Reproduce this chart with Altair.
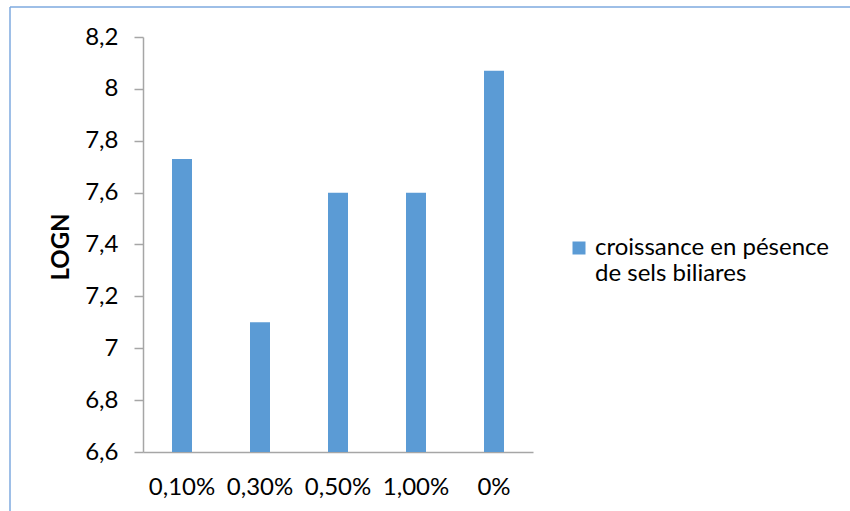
import altair as alt
import pandas as pd

# Bile-salt concentrations and the measured log counts
concentrations = ["0,10%", "0,30%", "0,50%", "1,00%", "0%"]
log_counts = [7.73, 7.10, 7.60, 7.60, 8.07]
series_name = "croissance en pésence de sels biliares"
y_ticks = [6.6, 6.8, 7.0, 7.2, 7.4, 7.6, 7.8, 8.0, 8.2]

df = pd.DataFrame({
    "concentration": concentrations,
    "logn": log_counts,
    "serie": [series_name] * len(concentrations),
})

FONT = "Lato"
FS = 24
BAR_BLUE = "#5b9bd5"
AXIS_GREY = "#a6a6a6"
FRAME_BLUE = "#7eaadf"

bars = alt.Chart(df).mark_bar(size=20).encode(
    x=alt.X(
        "concentration:N",
        sort=concentrations,
        scale=alt.Scale(paddingInner=0, paddingOuter=0),
        axis=alt.Axis(
            title=None, labelAngle=0, ticks=False, labelPadding=23,
            labelFont=FONT, labelFontSize=FS, labelColor="black",
            domainColor=AXIS_GREY, domainWidth=1.5,
        ),
    ),
    y=alt.Y(
        "logn:Q",
        scale=alt.Scale(domain=[6.6, 8.2], nice=False, zero=False, clamp=True),
        axis=alt.Axis(
            title="LOGN", values=y_ticks, grid=False, format=".1~f",
            labelExpr="replace(datum.label, '.', ',')",
            labelFont=FONT, labelFontSize=FS, labelColor="black",
            labelPadding=16, tickSize=9, tickColor=AXIS_GREY, tickWidth=1.5,
            domainColor=AXIS_GREY, domainWidth=1.5,
            titleFont=FONT, titleFontSize=FS, titleFontWeight="bold",
            titleColor="black", titleAlign="center", titleBaseline="middle",
            titleAngle=270, titleX=-81.5, titleY=209.5,
        ),
    ),
    color=alt.Color(
        "serie:N",
        scale=alt.Scale(domain=[series_name], range=[BAR_BLUE]),
        legend=alt.Legend(
            title=None, orient="none", legendX=424, legendY=199,
            symbolType="square", symbolSize=169, symbolStrokeWidth=0,
            labelFont=FONT, labelFontSize=FS, labelColor="black",
            labelOffset=4, labelLimit=400, labelBaseline="middle",
            labelExpr="['croissance en pésence', 'de sels biliares']",
            padding=0,
        ),
    ),
)

# Chart-area border running along the top and left edges
frame_data = alt.Data(values=[{}])
frame_left = alt.Chart(frame_data).mark_rule(
    color=FRAME_BLUE, strokeWidth=1.5
).encode(x=alt.value(-133), y=alt.value(-30), y2=alt.value(480))
frame_top = alt.Chart(frame_data).mark_rule(
    color=FRAME_BLUE, strokeWidth=1.5
).encode(x=alt.value(-133), x2=alt.value(720), y=alt.value(-30))

chart = alt.layer(bars, frame_left, frame_top).properties(
    width=390,
    height=415,
    autosize=alt.AutoSizeParams(type="none"),
    padding={"left": 143, "top": 37, "right": 317, "bottom": 59},
    background="white",
).configure_view(stroke=None)

chart.save("out.html", embed_options={"renderer": "svg", "actions": False})
